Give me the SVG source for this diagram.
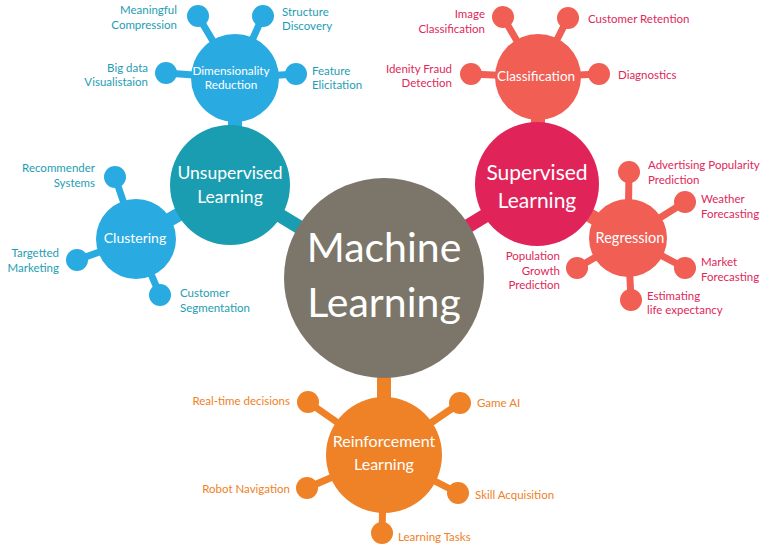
<svg xmlns="http://www.w3.org/2000/svg" width="768" height="549" viewBox="0 0 768 549">
<style>
text{font-family:Lato,"Open Sans","Liberation Sans",sans-serif}
.w{fill:#fff}
.lb{font-size:11.5px;fill:#1e9db3}
.lr{font-size:11.5px;fill:#e0285a}
.lo{font-size:11.5px;fill:#ef8126}
.cb{stroke:#29abe2}
.ct{stroke:#1a9db0}
.cc{stroke:#f05e54}
.cs{stroke:#e0245a}
.co{stroke:#ef8126}
.fb{fill:#29abe2}
.ft{fill:#1a9db0}
.fc{fill:#f05e54}
.fs{fill:#e0245a}
.fo{fill:#ef8126}
.s{stroke-width:7}
.t{stroke-width:14}
.e{text-anchor:end}
.m{text-anchor:middle}
</style>
<rect width="768" height="549" fill="#fff"/>
<g id="connectors" fill="none">
<line class="ct t" x1="383" y1="278" x2="230" y2="185"/>
<line class="cs t" x1="383" y1="278" x2="537" y2="184"/>
<line class="co t" x1="384" y1="278" x2="384" y2="455"/>
<line class="cb t" x1="235" y1="78" x2="235" y2="185"/>
<line class="cb t" x1="136" y1="239" x2="230" y2="185"/>
<line class="cc t" x1="538" y1="77" x2="538" y2="184"/>
<line class="cc t" x1="628" y1="238" x2="537" y2="184"/>
<line class="cb s" x1="235" y1="78" x2="198" y2="16"/>
<line class="cb s" x1="235" y1="78" x2="263" y2="16"/>
<line class="cb s" x1="235" y1="78" x2="166" y2="73"/>
<line class="cb s" x1="235" y1="78" x2="296" y2="74"/>
<line class="cb s" x1="136" y1="239" x2="115" y2="177"/>
<line class="cb s" x1="136" y1="239" x2="77" y2="260"/>
<line class="cb s" x1="136" y1="239" x2="160" y2="295"/>
<line class="cc s" x1="538" y1="77" x2="503" y2="17"/>
<line class="cc s" x1="538" y1="77" x2="568" y2="18"/>
<line class="cc s" x1="538" y1="77" x2="471" y2="74"/>
<line class="cc s" x1="538" y1="77" x2="599" y2="74"/>
<line class="cc s" x1="628" y1="238" x2="629" y2="172"/>
<line class="cc s" x1="628" y1="238" x2="685" y2="202"/>
<line class="cc s" x1="628" y1="238" x2="685" y2="268"/>
<line class="cc s" x1="628" y1="238" x2="631" y2="300"/>
<line class="cc s" x1="628" y1="238" x2="577" y2="268"/>
<line class="co s" x1="384" y1="455" x2="308" y2="402"/>
<line class="co s" x1="384" y1="455" x2="460" y2="403"/>
<line class="co s" x1="384" y1="455" x2="307" y2="488"/>
<line class="co s" x1="384" y1="455" x2="458" y2="493"/>
<line class="co s" x1="384" y1="455" x2="382" y2="533"/>
</g>
<g id="machine-learning"><circle cx="384" cy="278" r="100" fill="#7b7669"/><text class="w m" x="384" y="262" font-size="41">Machine</text><text class="w m" x="384" y="317" font-size="41">Learning</text></g>
<g id="unsupervised"><circle class="ft" cx="230" cy="185" r="60"/><text class="w m" x="230" y="179" font-size="17.5">Unsupervised</text><text class="w m" x="230" y="203" font-size="17.5">Learning</text></g>
<g id="supervised"><circle class="fs" cx="537" cy="184" r="62"/><text class="w m" x="537" y="180" font-size="21">Supervised</text><text class="w m" x="537" y="208" font-size="21">Learning</text></g>
<g id="reinforcement"><circle class="fo" cx="384" cy="455" r="58"/><text class="w m" x="384" y="447" font-size="16">Reinforcement</text><text class="w m" x="384" y="470" font-size="16">Learning</text></g>
<g id="dimensionality"><circle class="fb" cx="235" cy="78" r="44"/><text class="w m" x="231" y="75" font-size="11.8">Dimensionality</text><text class="w m" x="231" y="89" font-size="11.8">Reduction</text></g>
<g id="clustering"><circle class="fb" cx="136" cy="239" r="40"/><text class="w m" x="135" y="243" font-size="14">Clustering</text></g>
<g id="classification"><circle class="fc" cx="538" cy="77" r="43"/><text class="w m" x="536" y="81" font-size="13.5">Classification</text></g>
<g id="regression"><circle class="fc" cx="628" cy="238" r="39"/><text class="w m" x="630" y="243" font-size="14.5">Regression</text></g>
<g id="meaningful"><circle class="fb" cx="198" cy="16" r="11"/><text class="lb e" x="177" y="14">Meaningful</text><text class="lb e" x="177" y="29">Compression</text></g>
<g id="structure"><circle class="fb" cx="263" cy="16" r="11"/><text class="lb" x="282" y="16">Structure</text><text class="lb" x="282" y="30">Discovery</text></g>
<g id="bigdata"><circle class="fb" cx="166" cy="73" r="11"/><text class="lb e" x="148" y="72">Big data</text><text class="lb e" x="148" y="86">Visualistaion</text></g>
<g id="feature"><circle class="fb" cx="296" cy="74" r="11"/><text class="lb" x="312" y="75">Feature</text><text class="lb" x="312" y="89">Elicitation</text></g>
<g id="recommender"><circle class="fb" cx="115" cy="177" r="11"/><text class="lb e" x="95" y="172">Recommender</text><text class="lb e" x="95" y="187">Systems</text></g>
<g id="targetted"><circle class="fb" cx="77" cy="260" r="11"/><text class="lb e" x="59" y="257">Targetted</text><text class="lb e" x="59" y="272">Marketing</text></g>
<g id="segmentation"><circle class="fb" cx="160" cy="295" r="11"/><text class="lb" x="180" y="297">Customer</text><text class="lb" x="180" y="312">Segmentation</text></g>
<g id="image"><circle class="fc" cx="503" cy="17" r="11"/><text class="lr e" x="485" y="18">Image</text><text class="lr e" x="485" y="33">Classification</text></g>
<g id="retention"><circle class="fc" cx="568" cy="18" r="11"/><text class="lr" x="588" y="23">Customer Retention</text></g>
<g id="fraud"><circle class="fc" cx="471" cy="74" r="11"/><text class="lr e" x="452" y="73">Idenity Fraud</text><text class="lr e" x="452" y="87">Detection</text></g>
<g id="diagnostics"><circle class="fc" cx="599" cy="74" r="11"/><text class="lr" x="618" y="79">Diagnostics</text></g>
<g id="advertising"><circle class="fc" cx="629" cy="172" r="11"/><text class="lr" x="648" y="169">Advertising Popularity</text><text class="lr" x="648" y="184">Prediction</text></g>
<g id="weather"><circle class="fc" cx="685" cy="202" r="11"/><text class="lr" x="701" y="203">Weather</text><text class="lr" x="701" y="218">Forecasting</text></g>
<g id="market"><circle class="fc" cx="685" cy="268" r="11"/><text class="lr" x="701" y="266">Market</text><text class="lr" x="701" y="281">Forecasting</text></g>
<g id="estimating"><circle class="fc" cx="631" cy="300" r="11"/><text class="lr" x="647" y="300">Estimating</text><text class="lr" x="647" y="314">life expectancy</text></g>
<g id="population"><circle class="fc" cx="577" cy="268" r="11"/><text class="lr e" x="560" y="260">Population</text><text class="lr e" x="560" y="275">Growth</text><text class="lr e" x="560" y="289">Prediction</text></g>
<g id="realtime"><circle class="fo" cx="308" cy="402" r="11"/><text class="lo e" x="290" y="405">Real-time decisions</text></g>
<g id="gameai"><circle class="fo" cx="460" cy="403" r="11"/><text class="lo" x="477" y="407">Game AI</text></g>
<g id="robot"><circle class="fo" cx="307" cy="488" r="11"/><text class="lo e" x="290" y="493">Robot Navigation</text></g>
<g id="skill"><circle class="fo" cx="458" cy="493" r="11"/><text class="lo" x="475" y="499">Skill Acquisition</text></g>
<g id="tasks"><circle class="fo" cx="382" cy="533" r="11"/><text class="lo" x="398" y="541">Learning Tasks</text></g>
</svg>
